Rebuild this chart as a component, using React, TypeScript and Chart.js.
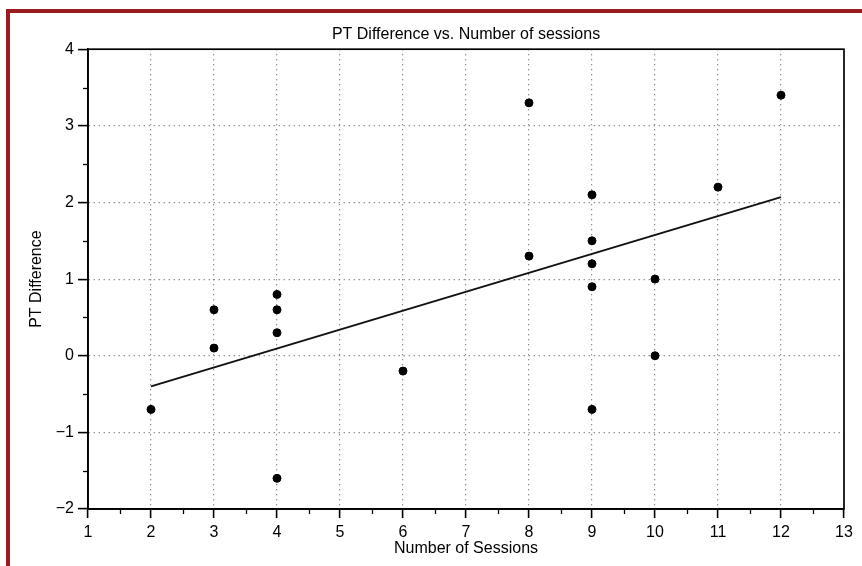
import React, { useEffect, useRef } from "react";
import { Chart, registerables } from "chart.js";

Chart.register(...registerables);

// ---- Data ----
const sessions = [2, 3, 3, 4, 4, 4, 4, 6, 8, 8, 9, 9, 9, 9, 9, 10, 10, 11, 12];
const ptDifference = [-0.7, 0.6, 0.1, 0.8, 0.6, 0.3, -1.6, -0.2, 3.3, 1.3, 2.1, 1.5, 1.2, 0.9, -0.7, 1.0, 0.0, 2.2, 3.4];
const fitX = [2, 12];
const fitY = [-0.4, 2.07];
const xMinorTicks = [1.5, 2.5, 3.5, 4.5, 5.5, 6.5, 7.5, 8.5, 9.5, 10.5, 11.5, 12.5];
const yMinorTicks = [-1.5, -0.5, 0.5, 1.5, 2.5, 3.5];

const titleText = "PT Difference vs. Number of sessions";
const xTitle = "Number of Sessions";
const yTitle = "PT Difference";

const FONT = "'Liberation Sans', Arial, Helvetica, sans-serif";

const frameAndMinor = {
  id: "frameAndMinor",
  afterDraw(chart: any) {
    const { ctx, chartArea, scales } = chart;
    const x = scales.x;
    const y = scales.y;
    ctx.save();
    ctx.strokeStyle = "#000";
    ctx.lineWidth = 1.3;
    for (const v of xMinorTicks) {
      const px = Math.round(x.getPixelForValue(v)) + 0.5;
      ctx.beginPath();
      ctx.moveTo(px, chartArea.bottom);
      ctx.lineTo(px, chartArea.bottom + 5);
      ctx.stroke();
    }
    for (const v of yMinorTicks) {
      const py = Math.round(y.getPixelForValue(v)) + 0.5;
      ctx.beginPath();
      ctx.moveTo(chartArea.left - 5, py);
      ctx.lineTo(chartArea.left, py);
      ctx.stroke();
    }
    ctx.lineWidth = 1.7;
    ctx.strokeRect(
      chartArea.left,
      chartArea.top,
      chartArea.right - chartArea.left,
      chartArea.bottom - chartArea.top
    );
    ctx.restore();
  },
};

const fmt = (v: number) => (v < 0 ? "\u2212" + Math.abs(v) : String(v));

export default function App() {
  const ref = useRef<HTMLCanvasElement | null>(null);

  useEffect(() => {
    if (!ref.current) return;
    const gridColor = (min: number, max: number) => (c: any) =>
      c.tick && (c.tick.value === min || c.tick.value === max) ? "rgba(0,0,0,0)" : "#666";
    const chart = new Chart(ref.current, {
      type: "scatter",
      data: {
        datasets: [
          {
            type: "scatter",
            data: sessions.map((s, i) => ({ x: s, y: ptDifference[i] })),
            backgroundColor: "#000",
            borderColor: "#000",
            pointRadius: 4,
            pointHoverRadius: 4,
            order: 1,
          },
          {
            type: "line",
            data: fitX.map((s, i) => ({ x: s, y: fitY[i] })),
            borderColor: "#111",
            borderWidth: 2,
            pointRadius: 0,
            fill: false,
            order: 2,
          } as any,
        ],
      },
      options: {
        responsive: false,
        animation: false,
        layout: { padding: { left: 0, right: 18, top: 0, bottom: 0 } },
        plugins: {
          legend: { display: false },
          tooltip: { enabled: false },
          title: {
            display: true,
            fullSize: false,
            text: titleText,
            color: "#000",
            font: { family: FONT, size: 16, weight: "normal", lineHeight: 1.2 },
            padding: { top: 25, bottom: 5 },
          },
        },
        scales: {
          x: {
            type: "linear",
            min: 1,
            max: 13,
            afterFit: (s: any) => {
              s.height = 57;
            },
            ticks: {
              stepSize: 1,
              color: "#000",
              padding: 5,
              font: { family: FONT, size: 16 },
              callback: (v: any) => fmt(Number(v)),
            },
            grid: {
              color: gridColor(1, 13),
              lineWidth: 1.2,
              tickColor: "#000",
              tickLength: 9,
              tickWidth: 1.6,
            },
            border: { display: true, color: "#000", width: 1.7, dash: [1, 4] },
            title: {
              display: true,
              text: xTitle,
              color: "#000",
              font: { family: FONT, size: 16, lineHeight: 1.2 },
              padding: { top: 0, bottom: 8 },
            },
          },
          y: {
            type: "linear",
            min: -2,
            max: 4,
            afterFit: (s: any) => {
              s.width = 88;
            },
            ticks: {
              stepSize: 1,
              color: "#000",
              padding: 4,
              font: { family: FONT, size: 16 },
              callback: (v: any) => fmt(Number(v)),
            },
            grid: {
              color: gridColor(-2, 4),
              lineWidth: 1.2,
              tickColor: "#000",
              tickLength: 10,
              tickWidth: 1.6,
            },
            border: { display: true, color: "#000", width: 1.7, dash: [1, 4] },
            title: {
              display: true,
              text: yTitle,
              color: "#000",
              font: { family: FONT, size: 16, lineHeight: 1.2 },
              padding: { top: 27, bottom: 0 },
            },
          },
        },
      },
      plugins: [frameAndMinor],
    } as any);
    return () => chart.destroy();
  }, []);

  return (
    <div
      style={{
        position: "absolute",
        left: 0,
        top: 0,
        width: 862,
        height: 566,
        background: "#fff",
        overflow: "hidden",
      }}
    >
      <canvas ref={ref} width={862} height={566} style={{ display: "block", position: "absolute", left: 0, top: 0 }} />
      <div style={{ position: "absolute", left: 6, top: 9, width: 856, height: 4, background: "#9b1b1f" }} />
      <div style={{ position: "absolute", left: 6, top: 9, width: 4, height: 557, background: "#9b1b1f" }} />
    </div>
  );
}
